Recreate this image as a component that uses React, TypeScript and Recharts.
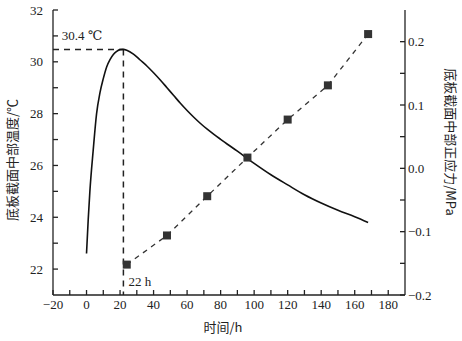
import React from "react";
import {
  ComposedChart,
  Line,
  XAxis,
  YAxis,
  ReferenceLine,
  ReferenceDot,
} from "recharts";

// temperature curve (h, °C)
const TIME = [0, 1, 2, 4, 6, 8, 10, 12, 14, 16, 18, 20, 22, 24, 28, 32, 36, 40, 44, 48, 52, 56, 60, 64, 68, 72, 76, 80, 90, 100, 110, 120, 130, 140, 150, 160, 168];
const TEMP = [22.6, 23.9, 25.0, 26.6, 28.0, 28.8, 29.35, 29.8, 30.08, 30.28, 30.4, 30.47, 30.48, 30.45, 30.3, 30.07, 29.84, 29.58, 29.3, 29.0, 28.7, 28.4, 28.12, 27.86, 27.62, 27.4, 27.2, 27.01, 26.55, 26.08, 25.64, 25.25, 24.87, 24.55, 24.27, 24.02, 23.8];

// stress measurements (h, MPa)
const STRESS_TIME = [24, 48, 72, 96, 120, 144, 168];
const STRESS = [-0.152, -0.106, -0.044, 0.017, 0.077, 0.131, 0.212];

const PEAK_TIME = 22;
const PEAK_TEMP = 30.48;

const X_TICKS = [-20, -10, 0, 10, 20, 30, 40, 50, 60, 70, 80, 90, 100, 110, 120, 130, 140, 150, 160, 170, 180];
const LEFT_TICKS = [22, 23, 24, 25, 26, 27, 28, 29, 30, 31, 32];
const RIGHT_TICKS = [-0.2, -0.15, -0.1, -0.05, 0, 0.05, 0.1, 0.15, 0.2];

const tempData = TIME.map((t, i) => ({ t, temp: TEMP[i] }));
const stressData = STRESS_TIME.map((t, i) => ({ t, stress: STRESS[i] }));

const INK = "#222";
const SERIF = "'Liberation Serif', 'DejaVu Serif', serif";
const CJK = "'Noto Sans CJK SC', sans-serif";

const minus = (s: string) => s.replace("-", "\u2212");

const SquareDot = (props: any) => {
  const { cx, cy } = props;
  if (cx == null || cy == null) return null;
  return <rect x={cx - 4} y={cy - 4} width={8} height={8} fill="#333" />;
};

// plain serif tick text
const SerifTick = (props: any) => {
  const { x, y, payload, textAnchor, tickFormatter, verticalAnchor } = props;
  const label = tickFormatter ? tickFormatter(payload.value) : String(payload.value);
  if (!label) return null;
  const dy = verticalAnchor === "start" ? "0.8em" : "0.35em";
  return (
    <text x={x} y={y} dy={dy} textAnchor={textAnchor} fontSize={13} fill={INK} fontFamily={SERIF}>
      {label}
    </text>
  );
};

export default function App() {
  return (
    <div style={{ position: "absolute", left: 0, top: 0, background: "#fff" }}>
      <ComposedChart width={462} height={341} margin={{ top: 10, right: 0, left: 0, bottom: 0 }}>
        <XAxis
          type="number"
          dataKey="t"
          domain={[-20, 190]}
          ticks={X_TICKS}
          allowDataOverflow
          interval={0}
          tickFormatter={(v: number) => (v % 20 === 0 ? minus(String(v)) : "")}
          tick={<SerifTick />}
          tickSize={-5}
          tickMargin={9}
          height={46}
          stroke={INK}
          strokeWidth={1.3}
          label={{
            content: () => (
              <text x={223} y={332} textAnchor="middle" fontSize={13} fill={INK} fontFamily={CJK}>
                时间/h
              </text>
            ),
          }}
        />
        <YAxis
          yAxisId="left"
          type="number"
          domain={[21, 32]}
          ticks={LEFT_TICKS}
          interval={0}
          allowDataOverflow
          tickFormatter={(v: number) => (v % 2 === 0 ? String(v) : "")}
          tick={<SerifTick />}
          tickSize={-5}
          tickMargin={15}
          width={53}
          stroke={INK}
          strokeWidth={1.3}
          label={{
            content: () => (
              <text
                x={17}
                y={160}
                transform="rotate(-90 17 160)"
                textAnchor="middle"
                fontSize={13}
                fill={INK}
                fontFamily={CJK}
              >
                底板截面中部温度/℃
              </text>
            ),
          }}
        />
        <YAxis
          yAxisId="right"
          orientation="right"
          type="number"
          domain={[-0.2, 0.25]}
          ticks={RIGHT_TICKS}
          interval={0}
          allowDataOverflow
          tickFormatter={(v: number) => {
            const r = Math.round(v * 100);
            return r % 10 === 0 ? minus((r / 100).toFixed(1)) : "";
          }}
          tick={<SerifTick />}
          tickSize={-5}
          tickMargin={8}
          width={57}
          stroke={INK}
          strokeWidth={1.3}
          label={{
            content: () => (
              <text
                x={446}
                y={142}
                transform="rotate(90 446 142)"
                textAnchor="middle"
                fontSize={13}
                fill={INK}
                fontFamily={CJK}
              >
                底板截面中部正应力/MPa
              </text>
            ),
          }}
        />
        <ReferenceLine
          yAxisId="left"
          segment={[
            { x: -20, y: PEAK_TEMP },
            { x: PEAK_TIME, y: PEAK_TEMP },
          ]}
          stroke={INK}
          strokeWidth={1.5}
          strokeDasharray="6 5"
          ifOverflow="visible"
        />
        <ReferenceLine
          yAxisId="left"
          segment={[
            { x: PEAK_TIME, y: PEAK_TEMP },
            { x: PEAK_TIME, y: 21 },
          ]}
          stroke={INK}
          strokeWidth={1.5}
          strokeDasharray="6 5"
          ifOverflow="visible"
        />
        <Line
          yAxisId="left"
          data={tempData}
          dataKey="temp"
          type="monotone"
          stroke="#111"
          strokeWidth={1.6}
          dot={false}
          activeDot={false}
          isAnimationActive={false}
        />
        <Line
          yAxisId="right"
          data={stressData}
          dataKey="stress"
          type="linear"
          stroke="#333"
          strokeWidth={1.3}
          strokeDasharray="5 5"
          dot={<SquareDot />}
          activeDot={false}
          isAnimationActive={false}
        />
        <ReferenceDot
          yAxisId="left"
          x={-2.7}
          y={31.0}
          r={0}
          fill="none"
          stroke="none"
          label={{
            content: (p: any) => (
              <text x={p.viewBox.x} y={p.viewBox.y} dy="0.35em" textAnchor="middle" fontSize={13} fill={INK} fontFamily={SERIF}>
                30.4 ℃
              </text>
            ),
          }}
        />
        <ReferenceDot
          yAxisId="left"
          x={31.9}
          y={21.54}
          r={0}
          fill="none"
          stroke="none"
          label={{
            content: (p: any) => (
              <text x={p.viewBox.x} y={p.viewBox.y} dy="0.35em" textAnchor="middle" fontSize={13} fill={INK} fontFamily={SERIF}>
                22 h
              </text>
            ),
          }}
        />
      </ComposedChart>
    </div>
  );
}
